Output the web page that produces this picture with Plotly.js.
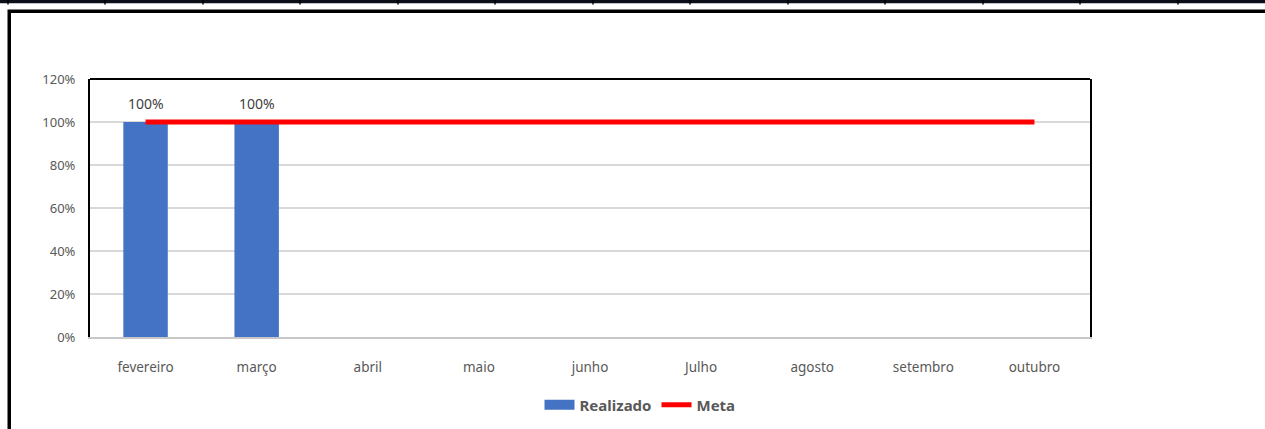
<!DOCTYPE html>
<html>
<head>
<meta charset="utf-8">
<script src="https://cdn.plot.ly/plotly-3.0.1.min.js"></script>
<style>html,body{margin:0;padding:0;background:#fff;}#chart{width:1265px;height:429px;}</style>
</head>
<body>
<div id="chart"></div>
<script>
const months = ["fevereiro", "março", "abril", "maio", "junho", "Julho", "agosto", "setembro", "outubro"];
const realizado = [1.0, 1.0, null, null, null, null, null, null, null];
const meta = [1.0, 1.0, 1.0, 1.0, 1.0, 1.0, 1.0, 1.0, 1.0];
const yTicks = [0, 0.2, 0.4, 0.6, 0.8, 1.0, 1.2];

const FONT = "Noto Sans, sans-serif";
const BLUE = "#4472c4";

const traces = [
  {
    type: "bar", name: "Realizado", x: months, y: realizado,
    width: 0.4, marker: {color: BLUE}, showlegend: false,
    hoverinfo: "skip"
  },
  {
    // legend-only swatch for Realizado (wide rectangle like the reference)
    type: "scatter", mode: "lines", name: "Realizado", x: [null], y: [null],
    line: {color: BLUE, width: 10}, hoverinfo: "skip"
  },
  {
    type: "scatter", mode: "lines", name: "Meta", x: months, y: meta,
    line: {color: "#ff0000", width: 5}, hoverinfo: "skip"
  }
];

// data labels above bars
const annotations = [];
months.forEach((m, i) => {
  if (realizado[i] !== null) {
    annotations.push({x: m, y: realizado[i], xref: "x", yref: "y", text: Math.round(realizado[i] * 100) + "%",
      showarrow: false, yanchor: "bottom", yshift: 7, font: {family: FONT, size: 14, color: "#404040"}});
  }
});

// pixel helpers for paper-referenced decoration
const L = 90, R = 1090, T = 79, B = 337;
const px = v => (v - L) / (R - L);
const py = v => (B - v) / (B - T);

const shapes = [
  // top spreadsheet strip
  {type: "rect", xref: "paper", yref: "paper", x0: px(-5), x1: px(1275), y0: py(3.2), y1: py(-2), fillcolor: "#0b0f1a", line: {width: 0}, layer: "above"},
  // outer frame
  {type: "rect", xref: "paper", yref: "paper", x0: px(9.25), x1: px(1300), y0: py(460), y1: py(11.25), line: {color: "#000", width: 3.5}, fillcolor: "rgba(0,0,0,0)", layer: "above"},
  // top border of plot box
  {type: "line", xref: "paper", yref: "paper", x0: 0, x1: 1, y0: 1, y1: 1, line: {color: "#000", width: 2}, layer: "above"}
];
const dividers = [8, 105, 203, 300, 398, 495, 593, 690, 788, 885, 983, 1080, 1178];
dividers.forEach(d => shapes.push({type: "line", xref: "paper", yref: "paper", x0: px(d), x1: px(d), y0: py(4.5), y1: py(0), line: {color: "#000", width: 1.5}, layer: "above"}));

const layout = {
  width: 1265, height: 429,
  margin: {l: L, r: 1265 - R, t: T, b: 429 - B, autoexpand: false},
  paper_bgcolor: "#fff", plot_bgcolor: "#fff",
  font: {family: FONT, size: 13, color: "#595959"},
  showlegend: true,
  legend: {orientation: "h", x: 0.55, xanchor: "center", y: py(405), yanchor: "middle",
           font: {family: FONT, size: 15, color: "#595959", weight: "bold"}, tracegroupgap: 0},
  bargap: 0.6,
  xaxis: {
    type: "category", range: [-0.5, 8.5], showgrid: false, zeroline: false,
    showline: true, linecolor: "#c8c8c8", linewidth: 2, mirror: false,
    ticks: "", ticklabelstandoff: 17,
    tickfont: {family: FONT, size: 13.5, color: "#595959"}
  },
  yaxis: {
    range: [0, 1.2], tickvals: yTicks, tickformat: ".0%",
    showgrid: true, gridcolor: "#d9d9d9", gridwidth: 2, zeroline: false,
    showline: true, linecolor: "#000", linewidth: 2, mirror: true,
    ticks: "", ticklabelstandoff: 10,
    tickfont: {family: FONT, size: 13, color: "#595959"}
  },
  shapes: shapes,
  annotations: annotations
};

Plotly.newPlot("chart", traces, layout, {displayModeBar: false, staticPlot: true});
</script>
</body>
</html>
